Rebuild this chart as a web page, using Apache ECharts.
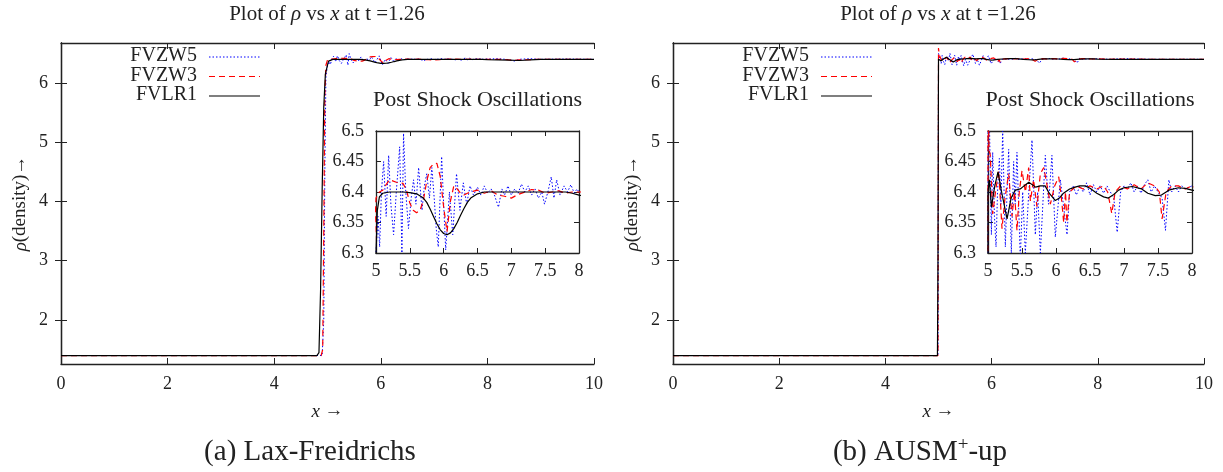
<!DOCTYPE html>
<html>
<head>
<meta charset="utf-8">
<title>rho vs x</title>
<script src="https://cdn.jsdelivr.net/npm/echarts@6/dist/echarts.min.js"></script>
<style>
  html, body { margin: 0; padding: 0; background: #fff; }
  #chart { width: 1223px; height: 472px; }
</style>
</head>
<body>
<div id="chart"></div>
<script>
// density samples, [x, rho]
const laxZw5 = [[0,1.4],[4.9,1.4],[4.93,2],[4.95,4.5],[4.97,6.1],[5.0,6.3],[5.03,6.36],[5.054,6.31],[5.08,6.40],[5.113,6.45],[5.15,6.36],[5.187,6.46],[5.22,6.38],[5.26,6.33],[5.3,6.40],[5.35,6.474],[5.383,6.30],[5.407,6.496],[5.44,6.40],[5.48,6.34],[5.52,6.39],[5.555,6.42],[5.59,6.38],[5.63,6.44],[5.68,6.37],[5.715,6.41],[5.75,6.43],[5.79,6.39],[5.825,6.44],[5.86,6.39],[5.89,6.34],[5.92,6.31],[5.97,6.458],[6.0,6.38],[6.03,6.305],[6.085,6.40],[6.134,6.33],[6.19,6.43],[6.24,6.37],[6.29,6.415],[6.34,6.38],[6.39,6.41],[6.44,6.395],[6.5,6.408],[6.55,6.395],[6.6,6.41],[6.65,6.398],[6.7,6.405],[6.75,6.395],[6.81,6.375],[6.86,6.405],[6.9,6.395],[6.95,6.41],[7.0,6.395],[7.05,6.405],[7.1,6.398],[7.15,6.413],[7.2,6.4],[7.25,6.41],[7.3,6.395],[7.35,6.405],[7.4,6.39],[7.45,6.4],[7.49,6.38],[7.54,6.40],[7.59,6.425],[7.63,6.39],[7.67,6.42],[7.72,6.395],[7.78,6.41],[7.83,6.4],[7.88,6.412],[7.93,6.398],[7.97,6.405],[8.0,6.4],[8.2,6.41],[8.4,6.395],[8.5,6.37],[8.6,6.4],[8.8,6.41],[9.0,6.4],[9.5,6.405],[10,6.4]]
const laxZw3 = [[0,1.4],[4.88,1.4],[4.91,1.5],[4.93,3.5],[4.95,5.8],[4.97,6.3],[5.0,6.39],[5.05,6.4],[5.1,6.403],[5.15,6.412],[5.2,6.42],[5.3,6.416],[5.4,6.414],[5.45,6.403],[5.5,6.382],[5.55,6.37],[5.6,6.366],[5.65,6.37],[5.7,6.386],[5.75,6.418],[5.8,6.44],[5.85,6.446],[5.9,6.447],[5.95,6.425],[6.0,6.375],[6.05,6.335],[6.1,6.385],[6.15,6.41],[6.2,6.405],[6.25,6.398],[6.3,6.395],[6.35,6.398],[6.4,6.4],[6.5,6.403],[6.6,6.398],[6.7,6.402],[6.8,6.395],[6.9,6.393],[7.0,6.39],[7.1,6.396],[7.2,6.4],[7.3,6.404],[7.4,6.403],[7.5,6.398],[7.6,6.4],[7.7,6.402],[7.8,6.398],[7.9,6.4],[8.0,6.4],[8.3,6.4],[8.5,6.38],[8.6,6.39],[9,6.4],[10,6.4]]
const laxLr1 = [[0,1.4],[4.8,1.4],[4.84,1.45],[4.87,2.5],[4.9,4.2],[4.93,5.6],[4.96,6.15],[5.0,6.3],[5.02,6.37],[5.05,6.392],[5.1,6.398],[5.2,6.4],[5.3,6.4],[5.4,6.4],[5.5,6.399],[5.6,6.397],[5.7,6.39],[5.75,6.383],[5.8,6.372],[5.85,6.36],[5.9,6.348],[5.95,6.338],[6.0,6.332],[6.05,6.33],[6.1,6.333],[6.15,6.34],[6.2,6.35],[6.25,6.362],[6.3,6.373],[6.35,6.383],[6.4,6.39],[6.5,6.397],[6.6,6.4],[7,6.4],[7.5,6.4],[7.8,6.4],[7.9,6.398],[8.0,6.395],[8.2,6.39],[8.4,6.385],[8.6,6.38],[8.8,6.39],[9.0,6.398],[9.5,6.4],[10,6.4]]

const ausmZw5 = [[0,1.4],[4.99,1.4],[5.0,6.5],[5.02,6.52],[5.05,6.33],[5.069,6.465],[5.095,6.36],[5.118,6.31],[5.14,6.40],[5.167,6.455],[5.19,6.38],[5.216,6.50],[5.255,6.31],[5.28,6.40],[5.304,6.47],[5.343,6.30],[5.377,6.45],[5.40,6.38],[5.426,6.465],[5.475,6.29],[5.51,6.40],[5.549,6.30],[5.6,6.40],[5.647,6.485],[5.696,6.33],[5.73,6.40],[5.77,6.30],[5.843,6.46],[5.89,6.38],[5.94,6.46],[5.99,6.326],[6.064,6.42],[6.162,6.33],[6.2,6.40],[6.25,6.41],[6.3,6.395],[6.35,6.41],[6.4,6.40],[6.45,6.415],[6.5,6.395],[6.55,6.412],[6.6,6.40],[6.65,6.41],[6.7,6.398],[6.75,6.41],[6.8,6.40],[6.85,6.39],[6.90,6.334],[6.95,6.40],[7.0,6.41],[7.05,6.405],[7.1,6.415],[7.15,6.40],[7.2,6.41],[7.25,6.398],[7.3,6.412],[7.35,6.42],[7.4,6.40],[7.45,6.41],[7.5,6.40],[7.56,6.39],[7.61,6.337],[7.66,6.42],[7.7,6.40],[7.75,6.41],[7.8,6.40],[7.85,6.41],[7.9,6.405],[8.0,6.41],[8.2,6.40],[8.5,6.41],[9,6.40],[10,6.40]]
const ausmZw3 = [[0,1.4],[4.99,1.4],[5.0,6.59],[5.015,6.47],[5.034,6.46],[5.069,6.364],[5.11,6.40],[5.157,6.435],[5.206,6.34],[5.25,6.39],[5.304,6.43],[5.353,6.36],[5.39,6.40],[5.426,6.337],[5.46,6.40],[5.5,6.435],[5.55,6.40],[5.598,6.44],[5.623,6.385],[5.67,6.42],[5.72,6.376],[5.77,6.43],[5.82,6.44],[5.87,6.41],[5.917,6.38],[5.98,6.41],[6.04,6.425],[6.08,6.39],[6.113,6.35],[6.14,6.40],[6.16,6.35],[6.2,6.40],[6.3,6.41],[6.4,6.405],[6.5,6.41],[6.6,6.405],[6.7,6.41],[6.76,6.4],[6.82,6.365],[6.87,6.40],[6.95,6.41],[7.05,6.405],[7.15,6.412],[7.25,6.405],[7.35,6.415],[7.45,6.41],[7.52,6.4],[7.56,6.356],[7.62,6.40],[7.7,6.41],[7.8,6.41],[7.9,6.405],[8.0,6.41],[8.2,6.40],[8.5,6.405],[9,6.40],[10,6.40]]
const ausmLr1 = [[0,1.4],[4.98,1.4],[4.99,3],[5.0,6.4],[5.02,6.42],[5.05,6.375],[5.1,6.41],[5.147,6.433],[5.2,6.4],[5.28,6.356],[5.34,6.39],[5.40,6.403],[5.475,6.405],[5.53,6.41],[5.60,6.416],[5.70,6.408],[5.77,6.41],[5.84,6.41],[5.9,6.398],[5.99,6.386],[6.05,6.39],[6.11,6.398],[6.2,6.405],[6.28,6.408],[6.35,6.41],[6.43,6.41],[6.5,6.406],[6.6,6.398],[6.7,6.392],[6.77,6.39],[6.85,6.396],[6.92,6.403],[7.0,6.407],[7.12,6.409],[7.26,6.405],[7.35,6.398],[7.46,6.394],[7.55,6.395],[7.66,6.403],[7.8,6.407],[7.9,6.406],[8.0,6.403],[8.3,6.4],[8.6,6.4],[9,6.4],[10,6.4]]

const seriesNames = ['FVZW5', 'FVZW3', 'FVLR1']
const mainYTicks = [2, 3, 4, 5, 6]
const plotTitle = 'Plot of {g|ρ} vs {g|x} at t =1.26'
const insetTitle = 'Post Shock Oscillations'
const captions = ['(a) Lax-Freidrichs', '(b) AUSM{sup|+}-up']

const FONT = '"Liberation Serif", "DejaVu Serif", serif'
const INK = '#222'

const lineStyles = {
  FVZW5: { color: '#0000ff', type: [1.5, 2], width: 1 },
  FVZW3: { color: '#ff0000', type: [6, 4], width: 1.2 },
  FVLR1: { color: '#000000', type: 'solid', width: 1.2 }
}

const panels = [
  { data: [laxZw5, laxZw3, laxLr1], main: { left: 61, top: 43, width: 533, height: 321 }, inset: { left: 376, top: 131, width: 203, height: 122 }, keyX: 197, cx: 327, capX: 310 },
  { data: [ausmZw5, ausmZw3, ausmLr1], main: { left: 673, top: 43, width: 531, height: 321 }, inset: { left: 988, top: 131, width: 204, height: 122 }, keyX: 809, cx: 938, capX: 920 }
]

const grid = []
const xAxis = []
const yAxis = []
const series = []
const graphic = []

const axisLine = { show: true, lineStyle: { color: INK, width: 1.3 } }
const labelStyle = { fontFamily: FONT, fontSize: 18, color: INK }
const nameStyle = { fontFamily: FONT, fontSize: 19, color: INK, rich: { i: { fontFamily: FONT, fontSize: 19, fontStyle: 'italic', color: INK } } }

function addAxes (gridIndex, x, y, isMain) {
  const tickLen = isMain ? 6 : 5
  const xBase = {
    type: 'value', gridIndex, min: x.min, max: x.max, interval: x.interval,
    axisLine, splitLine: { show: false },
    axisTick: { inside: true, length: tickLen, lineStyle: { color: INK } }
  }
  xAxis.push(Object.assign({}, xBase, {
    position: 'bottom',
    axisLabel: Object.assign({ margin: isMain ? 11 : 9 }, labelStyle),
    name: x.name || '',
    nameLocation: 'middle',
    nameGap: 38,
    nameTextStyle: nameStyle
  }))
  xAxis.push(Object.assign({}, xBase, { position: 'top', axisLabel: { show: false } }))

  const yBase = {
    type: 'value', gridIndex, min: y.min, max: y.max, interval: y.interval,
    axisLine, splitLine: { show: false },
    axisTick: { inside: true, length: tickLen, lineStyle: { color: INK }, customValues: y.ticks }
  }
  yAxis.push(Object.assign({}, yBase, {
    position: 'left',
    axisLabel: Object.assign({ margin: isMain ? 13 : 12, customValues: y.ticks }, labelStyle),
    name: y.name || '',
    nameLocation: 'middle',
    nameRotate: 90,
    nameGap: 31,
    nameTextStyle: nameStyle
  }))
  yAxis.push(Object.assign({}, yBase, { position: 'right', axisLabel: { show: false } }))
}

panels.forEach((p, pi) => {
  const gMain = grid.length
  grid.push(Object.assign({ containLabel: false }, p.main))
  addAxes(gMain,
    { min: 0, max: 10, interval: 2, name: '{i|x} →' },
    { min: 1.257, max: 6.675, ticks: mainYTicks, name: '{i|ρ}(density)→' },
    true)
  const gInset = grid.length
  grid.push(Object.assign({ containLabel: false }, p.inset))
  addAxes(gInset,
    { min: 5, max: 8, interval: 0.5 },
    { min: 6.3, max: 6.5, interval: 0.05 },
    false)

  ;[gMain, gInset].forEach(g => {
    seriesNames.forEach((name, i) => {
      series.push({
        name,
        type: 'line',
        xAxisIndex: g * 2,
        yAxisIndex: g * 2,
        data: p.data[i],
        showSymbol: false,
        symbol: 'none',
        clip: true,
        silent: true,
        lineStyle: lineStyles[name],
        itemStyle: { color: lineStyles[name].color }
      })
    })
  })

  // gnuplot-style key: label right-aligned, line sample to its right
  seriesNames.forEach((name, i) => {
    const ky = 56 + i * 19.5
    const ls = lineStyles[name]
    graphic.push({
      type: 'text', silent: true,
      style: { text: name, x: p.keyX, y: ky, align: 'right', verticalAlign: 'middle', font: '20px ' + FONT, fill: INK }
    })
    graphic.push({
      type: 'line', silent: true,
      shape: { x1: p.keyX + 12, y1: ky + 1, x2: p.keyX + 63, y2: ky + 1 },
      style: { stroke: ls.color, lineWidth: ls.width, lineDash: Array.isArray(ls.type) ? ls.type : null }
    })
  })

  graphic.push({
    type: 'text', silent: true,
    style: {
      text: plotTitle, x: p.cx, y: 14, align: 'center', verticalAlign: 'middle',
      font: '21px ' + FONT, fill: INK,
      rich: { g: { fontFamily: FONT, fontSize: 21, fontStyle: 'italic', fill: INK } }
    }
  })
  graphic.push({
    type: 'text', silent: true,
    style: {
      text: insetTitle, x: p.inset.left + p.inset.width / 2, y: 100, align: 'center', verticalAlign: 'middle',
      font: '22px ' + FONT, fill: INK
    }
  })
  graphic.push({
    type: 'text', silent: true,
    style: {
      text: captions[pi], x: p.capX, y: 452, align: 'center', verticalAlign: 'middle',
      font: '29px ' + FONT, fill: INK,
      rich: { sup: { fontFamily: FONT, fontSize: 19, fill: INK, verticalAlign: 'top', lineHeight: 33 } }
    }
  })
})

const chart = echarts.init(document.getElementById('chart'), null, { renderer: 'canvas' })

chart.setOption({
  animation: false,
  backgroundColor: '#fff',
  textStyle: { fontFamily: FONT },
  grid,
  xAxis,
  yAxis,
  series,
  graphic: { elements: graphic }
})
</script>
</body>
</html>
